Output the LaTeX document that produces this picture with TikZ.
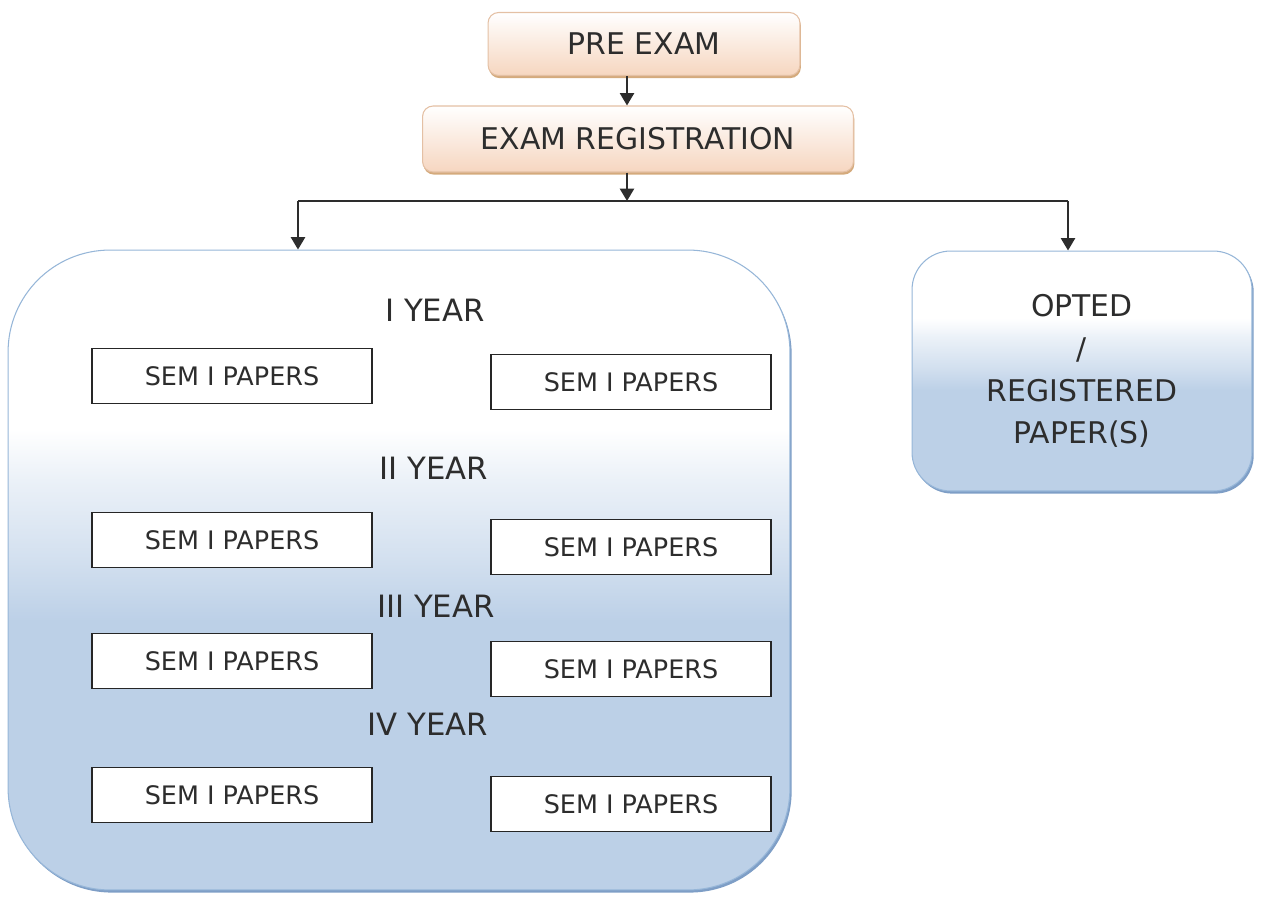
\documentclass[tikz,border=0pt]{standalone}
\usepackage{fontspec}
\setmainfont{DejaVu Sans}
\usetikzlibrary{arrows.meta,shadows}
\definecolor{peach}{RGB}{246,214,192}
\definecolor{peachline}{RGB}{228,192,164}
\definecolor{peachshadow}{RGB}{212,170,124}
\definecolor{paleblue}{RGB}{188,208,231}
\definecolor{blueline}{RGB}{150,182,216}
\definecolor{blueshadow}{RGB}{126,158,198}
\definecolor{ink}{RGB}{45,45,45}
\pgfdeclareverticalshading{bluefade}{100bp}{color(0bp)=(paleblue); color(25bp)=(paleblue); color(46bp)=(paleblue); color(51bp)=(paleblue!65!white); color(57bp)=(paleblue!30!white); color(61bp)=(white); color(100bp)=(white)}
\tikzset{
  stagebox/.style={draw=peachline, line width=0.6pt, rounded corners=6pt, top color=white, bottom color=peach,
    drop shadow={shadow xshift=0.5pt, shadow yshift=-1.5pt, fill=peachshadow, opacity=1},
    text=ink, font=\fontsize{17}{20}\selectfont, inner sep=0pt},
  groupbox/.style={draw=blueline, line width=0.6pt, shading=bluefade,
    drop shadow={shadow xshift=1pt, shadow yshift=-1.5pt, fill=blueshadow, opacity=1},
    inner sep=0pt, text=ink},
  paperbox/.style={draw=black!85, line width=0.8pt, fill=white, minimum width=5.6cm, minimum height=1.1cm,
    text=ink, font=\fontsize{14.5}{17}\selectfont},
  yearlabel/.style={text=ink, font=\fontsize{17.5}{20}\selectfont},
  flow/.style={draw=ink, line width=1.1pt},
  flowarrow/.style={flow, -{Triangle[width=8pt,length=7pt]}},
}
\begin{document}
\begin{tikzpicture}[%
x=0.02cm, y=-0.02cm,
]
\useasboundingbox (0,0) rectangle (1273,896);
%% box;
\node [stagebox, minimum width=6.24cm, minimum height=1.26cm] (pre) at (644,44) {PRE EXAM};
%% box;
\node [stagebox, minimum width=8.62cm, minimum height=1.32cm] (reg) at (638,139) {EXAM REGISTRATION};
%% box;
\node [groupbox, rounded corners=58pt, minimum width=15.64cm, minimum height=12.8cm] (years) at (399,570) {};
%% box;
\node [groupbox, rounded corners=22pt, minimum width=6.8cm, minimum height=4.8cm, align=center,
  font=\fontsize{17}{24}\selectfont] (opted) at (1082,371) {OPTED\\/\\REGISTERED\\PAPER(S)};
%% label;
\node [yearlabel] (y1) at (435,310) {I YEAR};
\node [yearlabel] (y2) at (434,468) {II YEAR};
\node [yearlabel] (y3) at (436,606) {III YEAR};
\node [yearlabel] (y4) at (428,724) {IV YEAR};
%% papers;
\node [paperbox] (p1a) at (232,376) {SEM I PAPERS};
\node [paperbox] (p1b) at (631,382) {SEM I PAPERS};
\node [paperbox] (p2a) at (232,540) {SEM I PAPERS};
\node [paperbox] (p2b) at (631,547) {SEM I PAPERS};
\node [paperbox] (p3a) at (232,661) {SEM I PAPERS};
\node [paperbox] (p3b) at (631,669) {SEM I PAPERS};
\node [paperbox] (p4a) at (232,795) {SEM I PAPERS};
\node [paperbox] (p4b) at (631,804) {SEM I PAPERS};
%% split;
\coordinate (split) at (627,201);
\coordinate (splitL) at (298,201);
\coordinate (splitR) at (1068,201);
%% arrow;
\draw [flowarrow] (pre.south -| split) -- (reg.north -| split);
\draw [flowarrow] (reg.south -| split) -- (split);
\draw [flow] (splitL) -- (splitR);
\draw [flowarrow] (splitL) -- (splitL |- years.north);
\draw [flowarrow] (splitR) -- (splitR |- opted.north);
\end{tikzpicture}
\end{document}
